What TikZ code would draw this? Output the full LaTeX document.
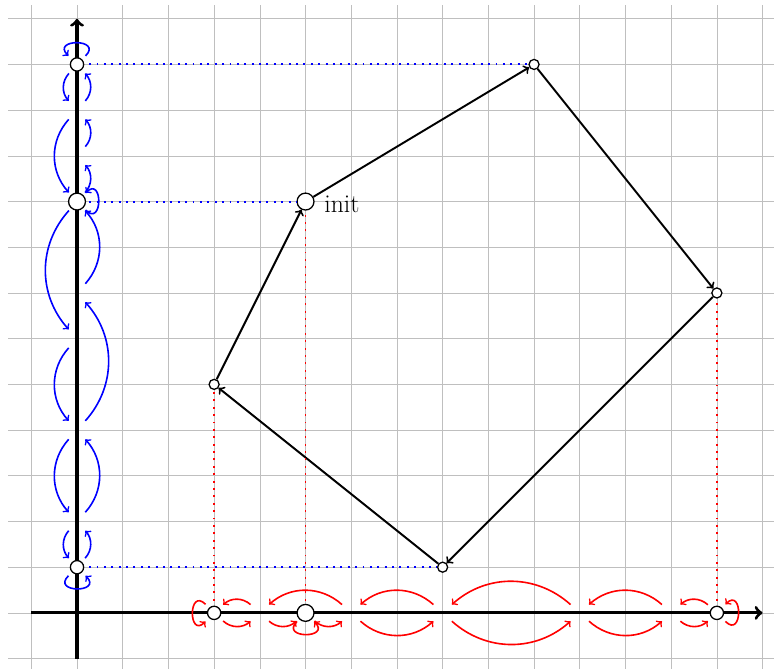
\documentclass[tikz,border=0pt]{standalone}

\begin{document}
\begin{tikzpicture}[
	spot/.style={circle, inner sep=0pt, minimum size=5.3mm},
	visit/.style={spot, draw, thick, fill=white, minimum size=2.9mm, outer sep=1.2mm},
	origin/.style={visit, minimum size=3.7mm, outer sep=0.8mm},
	state/.style={circle, draw, thick, fill=white, inner sep=0pt, minimum size=2.2mm},
	axis/.style={->, line width=2pt},
	move/.style={->, very thick},
	xarc/.style={->, line width=1pt, red},
	yarc/.style={->, line width=1pt, blue},
	selfloop/.style={loop, looseness=1, min distance=5.4mm},
	xproj/.style={red, line width=1.2pt, dash pattern=on 1.2pt off 3.4pt},
	yproj/.style={blue, line width=1.2pt, dash pattern=on 1.2pt off 3.4pt}
	]
	\useasboundingbox (-1.685,-1.225) rectangle (15.25,13.41);
	\clip (-1.685,-1.225) rectangle (15.25,13.41);
	\draw[gray!50] (-1.5,-1.5) grid (15.5,13.3);
	\draw[axis] (-1,0) -- (15,0);
	\draw[axis] (0,-1) -- (0,13);

	% positions on the axes
	\foreach \v in {4,6,8,11,13} \node[spot] (x\v) at (\v,0) {};
	\foreach \v in {2,4,6,7,10,11} \node[spot] (y\v) at (0,\v) {};
	\node[visit] (x3) at (3,0) {};
	\node[origin] (x5) at (5,0) {};
	\node[visit] (x14) at (14,0) {};
	\node[visit] (y1) at (0,1) {};
	\node[origin] (y9) at (0,9) {};
	\node[visit] (y12) at (0,12) {};

	% the walk
	\node[state, minimum size=3.7mm, label={[label distance=0.9mm, yshift=-0.6mm]right:\fontsize{16}{19}\selectfont init}] (init) at (5,9) {};
	\node[state] (s1) at (10,12) {};
	\node[state] (s2) at (14,7) {};
	\node[state] (s3) at (8,1) {};
	\node[state] (s4) at (3,5) {};
	\draw[move] (init) -- (s1);
	\draw[move] (s1) -- (s2);
	\draw[move] (s2) -- (s3);
	\draw[move] (s3) -- (s4);
	\draw[move] (s4) -- (init);

	% projections
	\draw[yproj] (y12) -- (s1);
	\draw[yproj] (y9) -- (init);
	\draw[yproj] (y1) -- (s3);
	\draw[xproj] (x3) -- (s4);
	\draw[xproj] (x5) -- (init);
	\draw[xproj] (x14) -- (s2);

	% moves along x
	\foreach \a/\b in {3/4,4/5,5/6,6/8,8/11,11/13,13/14,14/13,13/11,11/8,8/6,6/4,4/3}
		\draw[xarc] (x\a) to[bend right=42] (x\b);
	\draw[xarc] (x3) to[selfloop, out=135, in=225] (x3);
	\draw[xarc] (x5) to[selfloop, out=225, in=315] (x5);
	\draw[xarc] (x14) to[selfloop, out=-45, in=45] (x14);

	% moves along y
	\foreach \a/\b in {12/11,11/9,9/6,6/4,4/2,2/1,1/2,2/4,4/7,7/9,9/10,10/11,11/12}
		\draw[yarc] (y\a) to[bend right=42] (y\b);
	\draw[yarc] (y12) to[selfloop, out=45, in=135] (y12);
	\draw[yarc] (y9) to[selfloop, out=-45, in=45] (y9);
	\draw[yarc] (y1) to[selfloop, out=225, in=315] (y1);
\end{tikzpicture}
\end{document}
